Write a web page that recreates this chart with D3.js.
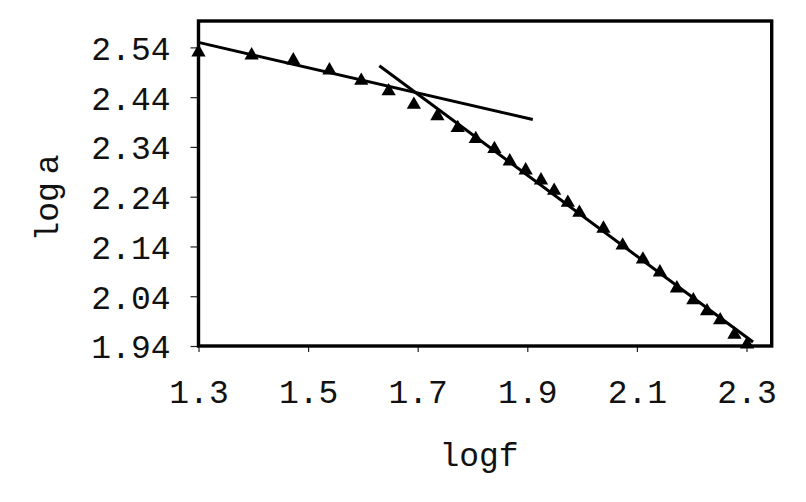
<!DOCTYPE html>
<html>
<head>
<meta charset="utf-8">
<script src="https://cdn.jsdelivr.net/npm/d3@7"></script>
<style>
  html, body { margin: 0; padding: 0; background: #fff; }
  svg text { font-family: "Liberation Mono", "Courier New", monospace; fill: #111; }
</style>
</head>
<body>
<svg id="chart" width="806" height="502"></svg>
<script>
// Data
const logF = [1.300, 1.397, 1.473, 1.539, 1.597, 1.647, 1.693, 1.736, 1.773, 1.806,
              1.840, 1.868, 1.897, 1.925, 1.949, 1.974, 1.995, 2.039, 2.074, 2.111,
              2.142, 2.173, 2.203, 2.228, 2.252, 2.278, 2.301];
const logA = [2.530, 2.524, 2.514, 2.494, 2.473, 2.452, 2.425, 2.402, 2.378, 2.356,
              2.336, 2.311, 2.293, 2.273, 2.252, 2.228, 2.208, 2.176, 2.142, 2.114,
              2.088, 2.056, 2.032, 2.010, 1.992, 1.963, 1.943];
// Two fitted lines: [x0, y0, x1, y1]
const fitLow  = [1.300, 2.550, 1.910, 2.395];
const fitHigh = [1.630, 2.503, 2.312, 1.948];
const xTicks = [1.3, 1.5, 1.7, 1.9, 2.1, 2.3];
const yTicks = [1.94, 2.04, 2.14, 2.24, 2.34, 2.44, 2.54];

(function () {
const svg = d3.select("#chart");
const mL = 198.5, mR = 771.7, mT = 21, mB = 346;
const x = d3.scaleLinear().domain([1.3, 2.346]).range([mL, mR]);
const y = d3.scaleLinear().domain([1.94, 2.593]).range([mB, mT]);

// axes
const xAxis = d3.axisBottom(x).tickValues(xTicks).tickSize(6).tickFormat(d3.format(".1f"));
const yAxis = d3.axisLeft(y).tickValues(yTicks).tickSize(8).tickFormat(d3.format(".2f"));

const gx = svg.append("g").attr("transform", `translate(0,${mB})`).call(xAxis);
gx.select(".domain").remove();
gx.selectAll(".tick line").attr("stroke", "#222").attr("stroke-width", 1.2);
gx.selectAll(".tick text").attr("y", 57).attr("dy", 0).attr("font-size", 33)
  .style("font-family", "Liberation Mono");

const gy = svg.append("g").attr("transform", `translate(${mL},0)`).call(yAxis);
gy.select(".domain").remove();
gy.selectAll(".tick line").attr("stroke", "#222").attr("stroke-width", 1.2);
gy.selectAll(".tick text").attr("x", -28).attr("dy", "0.36em").attr("font-size", 33)
  .style("font-family", "Liberation Mono");

// frame
svg.append("rect").attr("x", mL).attr("y", mT)
  .attr("width", mR - mL).attr("height", mB - mT)
  .attr("fill", "none").attr("stroke", "#000").attr("stroke-width", 3.4);

// fitted lines
[fitLow, fitHigh].forEach(l => {
  svg.append("line")
    .attr("x1", x(l[0])).attr("y1", y(l[1]))
    .attr("x2", x(l[2])).attr("y2", y(l[3]))
    .attr("stroke", "#000").attr("stroke-width", 3);
});

// points
const tri = d3.symbol().type(d3.symbolTriangle).size(88);
svg.append("g").selectAll("path")
  .data(logF.map((f, i) => [f, logA[i]]))
  .join("path")
  .attr("d", tri)
  .attr("transform", d => `translate(${x(d[0])},${y(d[1])})`)
  .attr("fill", "#000");

// axis titles
svg.append("text").attr("x", 479).attr("y", 466).attr("text-anchor", "middle")
  .attr("font-size", 33).text("logf");
const yt = svg.append("text").attr("transform", "translate(58,198) rotate(-90)")
  .attr("text-anchor", "middle").attr("font-size", 33);
yt.append("tspan").text("log");
yt.append("tspan").attr("dx", 8).text("a");
})();
</script>
</body>
</html>
